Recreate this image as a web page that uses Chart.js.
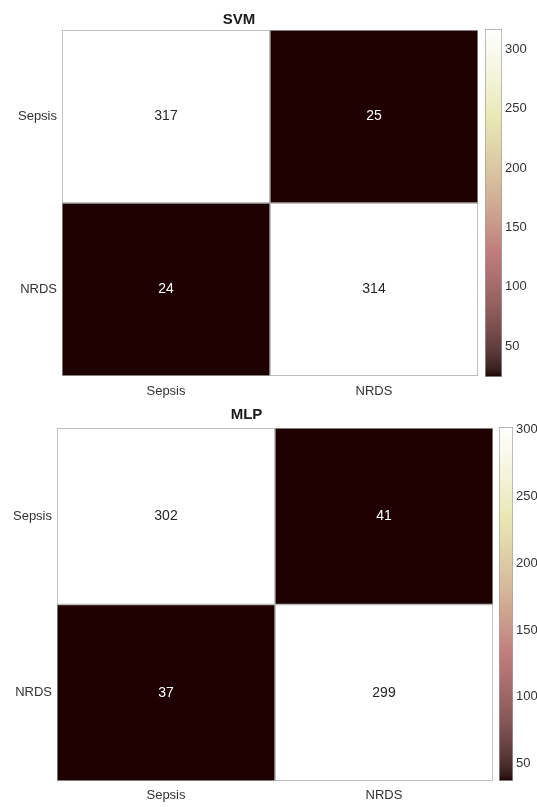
<!DOCTYPE html>
<html>
<head>
<meta charset="utf-8">
<script src="https://cdn.jsdelivr.net/npm/chart.js@4"></script>
<style>
  body { margin: 0; background: #fff; }
  #wrap { position: relative; width: 537px; height: 807px; }
  canvas { position: absolute; }
</style>
</head>
<body>
<div id="wrap">
  <canvas id="svmChart" width="480" height="403" style="left:0;top:0"></canvas>
  <canvas id="svmBar" width="57" height="403" style="left:480px;top:0"></canvas>
  <canvas id="mlpChart" width="495" height="407" style="left:0;top:400px"></canvas>
  <canvas id="mlpBar" width="42" height="407" style="left:495px;top:400px"></canvas>
</div>
<script>
// Classes (true class = rows, predicted class = columns)
const classes = ['Sepsis', 'NRDS'];

// SVM confusion matrix, one row per true class
const svmRowSepsis = [317, 25];
const svmRowNRDS = [24, 314];

// MLP confusion matrix
const mlpRowSepsis = [302, 41];
const mlpRowNRDS = [37, 299];

// colorbar tick labels
const colorbarTicks = [50, 100, 150, 200, 250, 300];

const FONT = '"Liberation Sans", Arial, Helvetica, sans-serif';
Chart.defaults.font.family = FONT;
Chart.defaults.color = '#333';
Chart.defaults.animation = false;

// MATLAB pink colormap: sqrt((2*gray + hot)/3)
function pinkMap(m) {
    const n = Math.floor(3 / 8 * m);
    const out = [];
    for (let i = 0; i < m; i++) {
        const gray = i / (m - 1);
        const hr = i < n ? (i + 1) / n : 1;
        const hg = i < n ? 0 : (i < 2 * n ? (i - n + 1) / n : 1);
        const hb = i < 2 * n ? 0 : (i - 2 * n + 1) / (m - 2 * n);
        const f = h => Math.round(255 * Math.sqrt((2 * gray + h) / 3));
        out.push([f(hr), f(hg), f(hb)]);
    }
    return out;
}
const PINK = pinkMap(64);

function colorFor(v, vmin, vmax) {
    const idx = Math.min(PINK.length - 1, Math.max(0, Math.floor((v - vmin) / (vmax - vmin) * PINK.length)));
    const c = PINK[idx];
    return `rgb(${c[0]},${c[1]},${c[2]})`;
}

// draw the count in the middle of each cell
const cellText = {
    id: 'cellText',
    afterDatasetsDraw(chart) {
        const ctx = chart.ctx;
        const { vmin, vmax } = chart.options.plugins.cellText;
        ctx.save();
        ctx.font = '14px ' + FONT;
        ctx.textAlign = 'center';
        ctx.textBaseline = 'middle';
        chart.data.datasets.forEach((ds, di) => {
            chart.getDatasetMeta(di).data.forEach((bar, j) => {
                const v = ds.counts[j];
                const p = bar.getCenterPoint();
                ctx.fillStyle = (v - vmin) / (vmax - vmin) > 0.5 ? '#262626' : '#ffffff';
                ctx.fillText(String(v), p.x, p.y);
            });
        });
        ctx.restore();
    }
};

function makeMatrix(id, title, rows, L) {
    const all = rows.flat();
    const vmin = Math.min(...all), vmax = Math.max(...all);
    new Chart(document.getElementById(id), {
        type: 'bar',
        data: {
            labels: classes,
            datasets: rows.map((row, r) => ({
                label: classes[r],
                counts: row,
                data: row.map(() => [r, r + 1]),
                backgroundColor: row.map(v => colorFor(v, vmin, vmax)),
                borderColor: '#a8a8a8',
                borderWidth: 1,
                borderSkipped: false,
                barPercentage: 1,
                categoryPercentage: 1,
                grouped: false
            }))
        },
        options: {
            responsive: false,
            layout: { padding: { left: 0, right: L.padRight, top: 0, bottom: 0 } },
            plugins: {
                legend: { display: false },
                tooltip: { enabled: false },
                title: {
                    display: true,
                    text: title,
                    color: '#1a1a1a',
                    font: { size: 15, weight: 'bold' },
                    padding: { top: L.titleTop, bottom: L.titleBottom }
                },
                cellText: { vmin, vmax }
            },
            scales: {
                x: {
                    grid: { display: false, drawTicks: false, tickLength: 0 },
                    border: { display: false },
                    ticks: { padding: L.xPad, font: { size: 13 }, color: '#333' },
                    afterFit(s) { s.height = L.xHeight; }
                },
                y: {
                    type: 'linear',
                    reverse: true,
                    min: 0,
                    max: classes.length,
                    grid: { display: false, drawTicks: false, tickLength: 0 },
                    border: { display: false },
                    afterBuildTicks(s) { s.ticks = classes.map((c, i) => ({ value: i + 0.5 })); },
                    ticks: {
                        padding: 5,
                        font: { size: 13 },
                        color: '#333',
                        callback: (v, i) => classes[i]
                    },
                    afterFit(s) { s.width = L.yWidth; }
                }
            }
        },
        plugins: [cellText]
    });
    return { vmin, vmax };
}

function makeColorbar(id, range, L) {
    const { vmin, vmax } = range;
    new Chart(document.getElementById(id), {
        type: 'bar',
        data: {
            labels: ['cb'],
            datasets: [{
                data: [[vmin, vmax]],
                backgroundColor(c) {
                    const area = c.chart.chartArea;
                    if (!area) return '#fff';
                    const g = c.chart.ctx.createLinearGradient(0, area.bottom, 0, area.top);
                    PINK.forEach((col, i) => {
                        g.addColorStop(i / (PINK.length - 1), `rgb(${col[0]},${col[1]},${col[2]})`);
                    });
                    return g;
                },
                borderColor: '#a0a0a0',
                borderWidth: 1,
                borderSkipped: false,
                barPercentage: 1,
                categoryPercentage: 1
            }]
        },
        options: {
            responsive: false,
            layout: { padding: { left: L.padLeft, right: 0, top: L.padTop, bottom: L.padBottom } },
            plugins: { legend: { display: false }, tooltip: { enabled: false } },
            scales: {
                x: { display: false },
                y: {
                    position: 'right',
                    min: vmin,
                    max: vmax,
                    grid: { display: false, drawTicks: false, tickLength: 0 },
                    border: { display: false },
                    afterBuildTicks(s) {
                        s.ticks = colorbarTicks.filter(t => t >= vmin && t <= vmax).map(t => ({ value: t }));
                    },
                    ticks: { padding: 3, font: { size: 13 }, color: '#333' },
                    afterFit(s) { s.width = L.yWidth; }
                }
            }
        }
    });
}

const svmRange = makeMatrix('svmChart', 'SVM', [svmRowSepsis, svmRowNRDS],
    { padRight: 2, titleTop: 11, titleBottom: 1, xPad: 8, xHeight: 27, yWidth: 62 });
makeColorbar('svmBar', svmRange, { padLeft: 5, padTop: 29, padBottom: 26, yWidth: 35 });

const mlpRange = makeMatrix('mlpChart', 'MLP', [mlpRowSepsis, mlpRowNRDS],
    { padRight: 2, titleTop: 6, titleBottom: 4, xPad: 7, xHeight: 26, yWidth: 57 });
makeColorbar('mlpBar', mlpRange, { padLeft: 4, padTop: 27, padBottom: 26, yWidth: 24 });
</script>
</body>
</html>
